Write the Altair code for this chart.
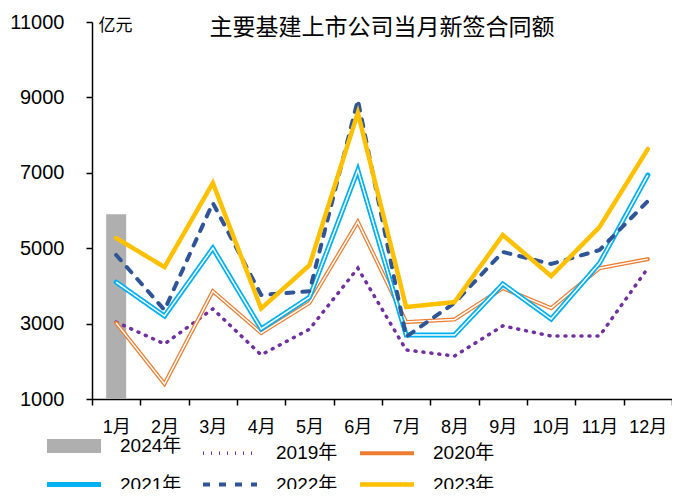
import altair as alt
import pandas as pd

months = ["1月", "2月", "3月", "4月", "5月", "6月", "7月", "8月", "9月", "10月", "11月", "12月"]
# legend order (filled column by column): 2024, 2021 | 2019, 2022 | 2020, 2023
series_names = ["2024年", "2021年", "2019年", "2022年", "2020年", "2023年"]

v2024 = [5900]
v2019 = [3040, 2460, 3390, 2170, 2850, 4470, 2300, 2140, 2940, 2670, 2670, 4470]
v2020 = [3020, 1400, 3860, 2750, 3550, 5700, 3040, 3110, 3940, 3410, 4470, 4710]
v2021 = [4100, 3200, 5000, 2860, 3700, 7070, 2700, 2700, 4050, 3120, 4600, 6940]
v2022 = [4820, 3360, 6200, 3760, 3860, 8930, 2650, 3550, 4900, 4580, 4950, 6250]
v2023 = [5270, 4500, 6730, 3400, 4550, 8590, 3440, 3570, 5350, 4260, 5560, 7630]
series_values = [v2024, v2021, v2019, v2022, v2020, v2023]

colors = ["#AFAFAF", "#00B0F0", "#7030A0", "#2F5597", "#ED7D31", "#FFC000"]
dashes = [[1, 0], [1, 0], [1, 7], [7, 9], [1, 0], [1, 0]]
widths = [14, 5, 3.5, 4, 4, 4.5]
inner_colors = ["transparent", "white", "transparent", "transparent", "white", "transparent"]

rows = []
for name, vals in zip(series_names, series_values):
    for m, v in zip(months, vals):
        rows.append({"month": m, "series": name, "value": v})
df = pd.DataFrame(rows)

FONT = "Liberation Sans, Noto Sans CJK SC"

x_enc = alt.X(
    "month:N", sort=months, title=None,
    scale=alt.Scale(paddingInner=0, paddingOuter=0),
    axis=alt.Axis(labelAngle=0, labelFontSize=18, labelFont=FONT, labelColor="black",
                  labelPadding=13, tickBand="extent", tickSize=6, tickColor="black",
                  tickWidth=1.5, domainColor="black", domainWidth=1.5, grid=False),
)
y_enc = alt.Y(
    "value:Q",
    scale=alt.Scale(domain=[1000, 11000], nice=False, zero=False),
    axis=alt.Axis(values=[1000, 3000, 5000, 7000, 9000, 11000], format="d", labelFontSize=20,
                  labelFont=FONT, labelColor="black", labelPadding=22, tickSize=6,
                  tickColor="black", tickWidth=1.5, domainColor="black", domainWidth=1.5,
                  grid=False, title="亿元", titleAngle=0, titleAlign="left",
                  titleBaseline="middle", titleX=6, titleY=3, titleFontSize=17,
                  titleFont="Noto Sans CJK SC", titleFontWeight="normal", titleColor="black"),
)

# wide, flat legend symbol: path spans 9 units of a 2-unit box -> 4.5 * sqrt(size)
SYMBOL_PATH = "M-4.5,0H4.5"
SYM_SIZE = 144          # sqrt = 12 -> 54 px long line
main_legend = alt.Legend(
    title=None, orient="none", legendX=-45, legendY=411, columns=3, columnPadding=13,
    rowPadding=0, padding=0, symbolType=SYMBOL_PATH, symbolSize=SYM_SIZE, symbolOffset=14,
    labelFontSize=19, labelFont=FONT, labelColor="black", labelOffset=33,
)

color_enc = alt.Color("series:N", scale=alt.Scale(domain=series_names, range=colors),
                      legend=main_legend)
dash_enc = alt.StrokeDash("series:N", scale=alt.Scale(domain=series_names, range=dashes),
                          legend=main_legend)
width_enc = alt.StrokeWidth("series:N",
                            scale=alt.Scale(type="ordinal", domain=series_names, range=widths),
                            legend=main_legend)

base = alt.Chart(df)

bars = base.transform_filter(alt.datum.series == "2024年").mark_bar(size=20).encode(
    x=x_enc, y=y_enc, y2=alt.datum(1000), color=color_enc,
)

line_order = ["2019年", "2020年", "2021年", "2022年", "2023年"]
line_layers = []
for name in line_order:
    line_layers.append(
        base.transform_filter(alt.datum.series == name).mark_line(
            strokeCap="round", strokeJoin="miter"
        ).encode(x=x_enc, y=y_enc, color=color_enc, strokeDash=dash_enc, strokeWidth=width_enc)
    )
    if name in ("2020年", "2021年"):
        line_layers.append(
            base.transform_filter(alt.datum.series == name).mark_line(
                strokeWidth=1.5, strokeJoin="miter"
            ).encode(
                x=x_enc, y=y_enc,
                stroke=alt.Stroke("series:N",
                                  scale=alt.Scale(domain=series_names, range=inner_colors),
                                  legend=None),
            )
        )

chart = alt.layer(bars, *line_layers).properties(
    width=580, height=377,
    autosize=alt.AutoSizeParams(type="none"),
    padding={"left": 84, "top": 14, "right": 0, "bottom": 90},
    title=alt.TitleParams(
        text="主要基建上市公司当月新签合同额", font="Noto Sans CJK SC", fontSize=23,
        fontWeight="normal", color="black", anchor="middle", dy=32,
    ),
).configure_view(stroke=None)

chart.save("out.html", embed_options={"renderer": "svg", "actions": False})
